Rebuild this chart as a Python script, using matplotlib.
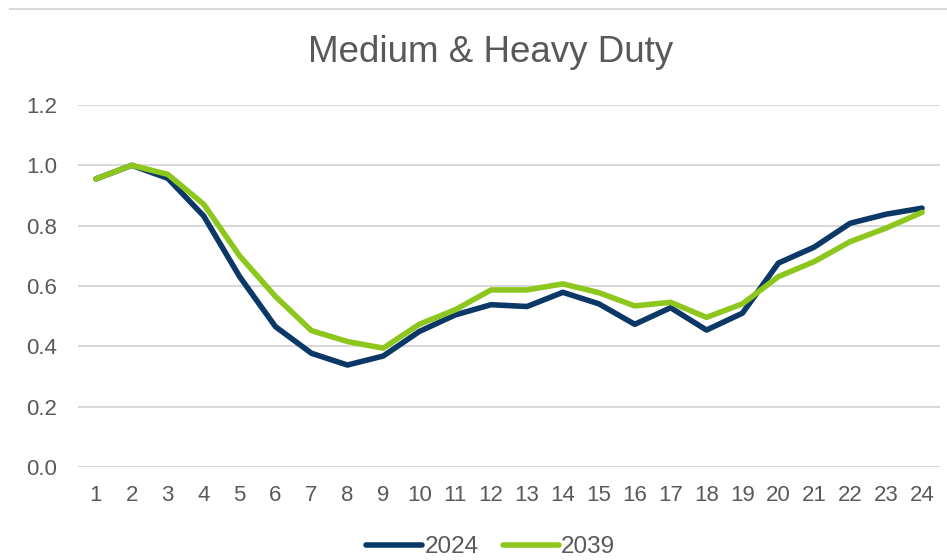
import matplotlib.pyplot as plt
from matplotlib.lines import Line2D
import numpy as np

hours = list(range(1, 25))
y2024 = [0.955, 1.0, 0.957, 0.832, 0.631, 0.465, 0.377, 0.338, 0.368, 0.449, 0.504, 0.538,
         0.532, 0.579, 0.541, 0.473, 0.528, 0.454, 0.510, 0.676, 0.729, 0.808, 0.838, 0.858]
y2039 = [0.955, 1.0, 0.970, 0.871, 0.700, 0.565, 0.452, 0.416, 0.394, 0.473, 0.521, 0.587,
         0.587, 0.607, 0.578, 0.534, 0.546, 0.496, 0.541, 0.631, 0.681, 0.747, 0.792, 0.844]

plt.rcParams['font.family'] = ['Liberation Sans', 'DejaVu Sans']
grey = '#595959'

fig = plt.figure(figsize=(9.47, 5.6), dpi=100)
ax = fig.add_axes([78 / 947, 1 - 467 / 560, 862 / 947, 362 / 560])

ax.plot(hours, y2024, color='#0b3866', lw=4, label='2024', solid_capstyle='round')
ax.plot(hours, y2039, color='#8dc71e', lw=4, label='2039', solid_capstyle='round')

ax.set_xlim(0.5, 24.5)
ax.set_ylim(0, 1.2)
ax.set_yticks(np.arange(0, 1.21, 0.2))
ax.set_yticklabels(['%.1f' % v for v in np.arange(0, 1.21, 0.2)])
ax.set_xticks(hours)
ax.grid(axis='y', color='#d9d9d9', lw=1.5)
ax.set_axisbelow(True)
for s in ax.spines.values():
    s.set_visible(False)
ax.tick_params(length=0, labelsize=16, labelcolor=grey)
ax.tick_params(axis='x', pad=13)
ax.tick_params(axis='y', pad=15)

fig.text(0.518, 1 - 52 / 560, 'Medium & Heavy Duty', ha='center', va='center',
         fontsize=26.5, color=grey)
fig.add_artist(Line2D([10 / 947, 1], [1 - 9 / 560] * 2, color='#d9d9d9', lw=1.5))

fig.legend(loc='center', bbox_to_anchor=(0.518, 1 - 547 / 560), ncol=2, frameon=False,
           fontsize=17.5, labelcolor=grey, handlelength=2.3, handletextpad=0.1,
           columnspacing=1.0)

fig.savefig('out.png', dpi=100)
